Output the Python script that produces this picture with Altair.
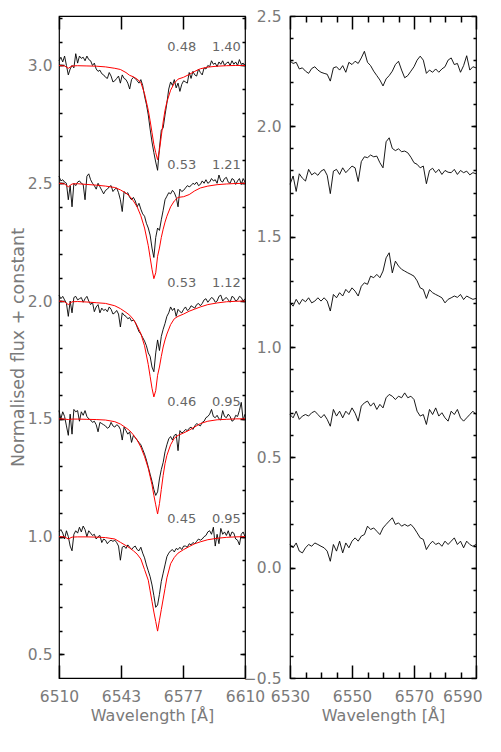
import altair as alt
import pandas as pd

# ---------------- data ----------------
WL_LEFT = list(range(6510, 6611))
WL_RIGHT = list(range(6530, 6591))
MODEL_WL = [6510, 6513, 6515, 6517, 6520, 6525, 6530, 6535, 6540, 6543,
            6546, 6548, 6550, 6552, 6554, 6556, 6558, 6559, 6560, 6561,
            6562, 6563, 6564, 6565, 6566, 6567, 6568, 6570, 6572, 6574,
            6577, 6580, 6583, 6586, 6590, 6595, 6600, 6605, 6610]

OBS_1 = [3.02, 3.035, 3.015, 3.04, 3.00, 2.96, 2.985, 3.00, 2.99, 3.05,
         3.01, 3.04, 3.03, 3.035, 3.02, 3.04, 3.025, 3.02, 3.00, 3.01,
         2.985, 2.975, 2.98, 2.965, 2.96, 2.95, 2.945, 2.97, 2.955, 2.93,
         2.935, 2.945, 2.955, 2.925, 2.96, 2.945, 2.94, 2.925, 2.90, 2.94,
         2.95, 2.945, 2.935, 2.925, 2.94, 2.915, 2.87, 2.835, 2.79, 2.73,
         2.675, 2.63, 2.59, 2.555, 2.65, 2.725, 2.735, 2.79, 2.84, 2.90,
         2.93, 2.915, 2.94, 2.905, 2.925, 2.89, 2.92, 2.935, 2.93, 2.925,
         2.97, 2.945, 2.975, 2.96, 2.955, 2.985, 2.97, 2.96, 2.99, 2.985,
         3.0, 2.995, 3.02, 3.005, 3.01, 2.995, 3.015, 3.005, 3.02, 3.0,
         3.01, 3.015, 3.0, 3.02, 3.005, 3.015, 3.0, 3.025, 3.005, 3.01,
         3.0]
OBS_2 = [2.53, 2.51, 2.515, 2.505, 2.50, 2.43, 2.49, 2.40, 2.50, 2.49,
         2.505, 2.51, 2.50, 2.495, 2.43, 2.53, 2.54, 2.515, 2.50, 2.49,
         2.475, 2.50, 2.485, 2.47, 2.455, 2.47, 2.475, 2.485, 2.49, 2.465,
         2.475, 2.48, 2.46, 2.43, 2.38, 2.465, 2.455, 2.46, 2.44, 2.43,
         2.44, 2.425, 2.40, 2.415, 2.39, 2.37, 2.36, 2.33, 2.31, 2.28,
         2.225, 2.185, 2.27, 2.31, 2.30, 2.345, 2.385, 2.43, 2.445, 2.46,
         2.455, 2.47, 2.46, 2.44, 2.40, 2.475, 2.465, 2.47, 2.48, 2.49,
         2.485, 2.49, 2.50, 2.495, 2.505, 2.49, 2.495, 2.51, 2.50, 2.515,
         2.50, 2.505, 2.52, 2.51, 2.515, 2.50, 2.535, 2.51, 2.505, 2.52,
         2.525, 2.505, 2.50, 2.52, 2.515, 2.495, 2.51, 2.52, 2.495, 2.52,
         2.505]
OBS_3 = [2.025, 2.01, 2.02, 2.005, 1.99, 1.935, 2.00, 1.95, 2.015, 2.02,
         2.005, 2.01, 2.015, 1.995, 2.01, 2.02, 2.00, 1.985, 1.995, 1.955,
         1.975, 1.985, 1.95, 1.97, 1.96, 1.965, 1.955, 1.975, 1.965, 1.945,
         1.95, 1.96, 1.945, 1.89, 1.95, 1.94, 1.935, 1.925, 1.93, 1.915,
         1.92, 1.91, 1.89, 1.87, 1.86, 1.845, 1.83, 1.81, 1.78, 1.765,
         1.72, 1.70, 1.78, 1.835, 1.79, 1.85, 1.88, 1.905, 1.935, 1.95,
         1.975, 1.96, 1.97, 1.935, 1.965, 1.955, 1.95, 1.965, 1.975, 1.96,
         1.965, 1.98, 1.975, 1.97, 1.985, 1.99, 1.98, 1.99, 2.005, 2.01,
         1.995, 2.005, 2.015, 2.01, 1.995, 2.0, 2.02, 2.025, 2.0, 2.01,
         2.015, 2.005, 1.995, 2.02, 2.015, 2.0, 2.005, 2.02, 2.015, 2.0,
         2.01]
OBS_4 = [1.535, 1.50, 1.53, 1.51, 1.47, 1.43, 1.52, 1.435, 1.54, 1.53,
         1.535, 1.49, 1.53, 1.515, 1.535, 1.51, 1.50, 1.495, 1.485, 1.49,
         1.475, 1.445, 1.485, 1.48, 1.475, 1.47, 1.46, 1.465, 1.485, 1.47,
         1.465, 1.475, 1.47, 1.455, 1.41, 1.465, 1.45, 1.435, 1.445, 1.40,
         1.43, 1.42, 1.41, 1.40, 1.39, 1.37, 1.35, 1.325, 1.295, 1.265,
         1.235, 1.20, 1.175, 1.19, 1.245, 1.285, 1.315, 1.36, 1.39, 1.415,
         1.425, 1.41, 1.43, 1.435, 1.365, 1.45, 1.44, 1.445, 1.455, 1.45,
         1.46, 1.465, 1.455, 1.47, 1.48, 1.475, 1.47, 1.485, 1.49, 1.505,
         1.51, 1.52, 1.54, 1.51, 1.505, 1.515, 1.50, 1.495, 1.535, 1.51,
         1.505, 1.52, 1.51, 1.49, 1.495, 1.515, 1.51, 1.535, 1.57, 1.495,
         1.52]
OBS_5 = [1.02, 1.03, 1.015, 0.99, 1.025, 1.0, 0.96, 0.94, 1.01, 1.025,
         1.015, 1.04, 1.02, 1.045, 1.03, 1.0, 1.025, 1.015, 1.005, 1.01,
         0.99, 1.0, 1.005, 0.975, 0.99, 0.985, 0.97, 0.98, 0.985, 0.98,
         0.985, 0.975, 0.96, 0.90, 0.955, 0.96, 0.95, 0.965, 0.955, 0.945,
         0.955, 0.96, 0.945, 0.94, 0.955, 0.93, 0.91, 0.88, 0.855, 0.83,
         0.795, 0.75, 0.70, 0.71, 0.755, 0.81, 0.845, 0.88, 0.915, 0.93,
         0.94, 0.945, 0.935, 0.95, 0.945, 0.955, 0.945, 0.96, 0.96, 0.955,
         0.97, 0.965, 0.975, 0.97, 0.98, 0.99, 0.985, 0.99, 1.0, 1.005,
         1.02, 1.025, 1.01, 1.04, 0.96, 1.01, 0.97, 1.035, 1.01, 1.02,
         1.005, 1.025, 1.0, 1.02, 1.015, 0.99, 0.985, 0.965, 1.01, 1.02,
         1.0]

MOD_1 = [3.0, 2.998, 2.988, 2.998, 2.999, 2.998, 2.997, 2.994, 2.988, 2.983,
         2.97, 2.958, 2.952, 2.942, 2.928, 2.88, 2.81, 2.765, 2.715, 2.665,
         2.63, 2.60, 2.64, 2.70, 2.76, 2.81, 2.845, 2.895, 2.925, 2.942,
         2.95, 2.962, 2.975, 2.986, 2.993, 2.997, 2.999, 3.0, 3.0]
MOD_2 = [2.5, 2.497, 2.485, 2.497, 2.498, 2.495, 2.492, 2.488, 2.482, 2.472,
         2.458, 2.445, 2.425, 2.40, 2.362, 2.31, 2.235, 2.185, 2.135, 2.095,
         2.12, 2.19, 2.225, 2.27, 2.305, 2.335, 2.36, 2.40, 2.425, 2.44,
         2.443, 2.452, 2.468, 2.48, 2.488, 2.494, 2.497, 2.499, 2.5]
MOD_3 = [2.0, 1.997, 1.985, 1.997, 1.998, 1.996, 1.993, 1.99, 1.98, 1.968,
         1.952, 1.94, 1.922, 1.895, 1.862, 1.81, 1.73, 1.68, 1.63, 1.593,
         1.62, 1.685, 1.72, 1.765, 1.805, 1.835, 1.86, 1.90, 1.925, 1.935,
         1.945, 1.957, 1.966, 1.975, 1.985, 1.992, 1.997, 1.999, 2.0]
MOD_4 = [1.5, 1.499, 1.497, 1.499, 1.499, 1.498, 1.497, 1.495, 1.488, 1.478,
         1.462, 1.45, 1.432, 1.41, 1.38, 1.34, 1.29, 1.255, 1.22, 1.175,
         1.135, 1.096, 1.14, 1.20, 1.26, 1.31, 1.345, 1.39, 1.418, 1.43,
         1.44, 1.452, 1.466, 1.48, 1.49, 1.496, 1.498, 1.5, 1.5]
MOD_5 = [1.0, 0.999, 0.99, 0.998, 0.999, 0.999, 0.998, 0.996, 0.99, 0.976,
         0.962, 0.952, 0.94, 0.926, 0.905, 0.86, 0.815, 0.77, 0.725, 0.68,
         0.64, 0.599, 0.645, 0.69, 0.735, 0.78, 0.825, 0.885, 0.912, 0.93,
         0.945, 0.958, 0.97, 0.978, 0.987, 0.993, 0.997, 0.999, 1.0]

RES_1 = [2.296, 2.285, 2.29, 2.26, 2.265, 2.25, 2.24, 2.262, 2.27, 2.255,
         2.245, 2.24, 2.236, 2.205, 2.265, 2.27, 2.255, 2.275, 2.245, 2.29,
         2.28, 2.295, 2.285, 2.31, 2.34, 2.29, 2.275, 2.25, 2.23, 2.21,
         2.183, 2.215, 2.23, 2.25, 2.28, 2.295, 2.255, 2.22, 2.23, 2.25,
         2.27, 2.30, 2.318, 2.30, 2.24, 2.255, 2.245, 2.26, 2.245, 2.26,
         2.27, 2.30, 2.31, 2.28, 2.285, 2.245, 2.275, 2.32, 2.255, 2.27,
         2.265]
RES_2 = [1.737, 1.775, 1.705, 1.785, 1.765, 1.752, 1.805, 1.78, 1.79, 1.778,
         1.797, 1.805, 1.778, 1.695, 1.797, 1.805, 1.782, 1.812, 1.79, 1.805,
         1.82, 1.812, 1.75, 1.84, 1.862, 1.858, 1.87, 1.862, 1.865, 1.835,
         1.812, 1.93, 1.948, 1.90, 1.89, 1.898, 1.885, 1.888, 1.88, 1.86,
         1.835, 1.828, 1.812, 1.82, 1.74, 1.80, 1.81, 1.79, 1.805, 1.782,
         1.80, 1.792, 1.79, 1.805, 1.782, 1.80, 1.79, 1.797, 1.78, 1.79,
         1.785]
RES_3 = [1.20, 1.185, 1.216, 1.193, 1.216, 1.205, 1.223, 1.20, 1.208, 1.223,
         1.208, 1.223, 1.208, 1.163, 1.238, 1.223, 1.246, 1.231, 1.261, 1.246,
         1.268, 1.253, 1.231, 1.275, 1.291, 1.284, 1.321, 1.314, 1.329, 1.314,
         1.344, 1.404, 1.427, 1.336, 1.389, 1.367, 1.352, 1.344, 1.336, 1.329,
         1.321, 1.30, 1.268, 1.261, 1.22, 1.26, 1.246, 1.238, 1.231, 1.223,
         1.20, 1.216, 1.223, 1.231, 1.225, 1.238, 1.215, 1.231, 1.223, 1.216,
         1.22]
RES_4 = [0.694, 0.679, 0.709, 0.672, 0.687, 0.694, 0.687, 0.702, 0.709, 0.694,
         0.679, 0.694, 0.672, 0.641, 0.717, 0.687, 0.709, 0.679, 0.709, 0.694,
         0.724, 0.70, 0.664, 0.732, 0.747, 0.755, 0.732, 0.747, 0.717, 0.74,
         0.724, 0.77, 0.785, 0.777, 0.762, 0.777, 0.770, 0.792, 0.770, 0.777,
         0.762, 0.709, 0.687, 0.694, 0.649, 0.717, 0.694, 0.724, 0.687, 0.702,
         0.679, 0.664, 0.709, 0.694, 0.717, 0.679, 0.664, 0.679, 0.694, 0.709,
         0.694]
RES_5 = [0.105, 0.09, 0.112, 0.075, 0.067, 0.09, 0.105, 0.097, 0.112, 0.105,
         0.097, 0.09, 0.075, 0.029, 0.105, 0.075, 0.12, 0.067, 0.112, 0.09,
         0.12, 0.135, 0.12, 0.143, 0.15, 0.188, 0.173, 0.18, 0.165, 0.15,
         0.18, 0.196, 0.211, 0.226, 0.196, 0.203, 0.188, 0.196, 0.188, 0.196,
         0.18, 0.158, 0.135, 0.128, 0.082, 0.105, 0.12, 0.105, 0.112, 0.097,
         0.12, 0.105, 0.12, 0.135, 0.105, 0.12, 0.09, 0.12, 0.105, 0.097,
         0.105]

LABEL_WL = [6576, 6600]
LABEL_Y = [3.079, 2.579, 2.078, 1.572, 1.073]
LABEL_A = ["0.48", "0.53", "0.53", "0.46", "0.45"]
LABEL_B = ["1.40", "1.21", "1.12", "0.95", "0.95"]

LEFT_XTICKS = [6510, 6543.333, 6576.667, 6610]
LEFT_YTICKS = [0.5, 1.0, 1.5, 2.0, 2.5, 3.0]
LEFT_YMINOR = [round(0.5 + 0.1 * i, 1) for i in range(28)]
RIGHT_XTICKS = [6530, 6550, 6570, 6590]
RIGHT_XMINOR = [6535, 6540, 6545, 6555, 6560, 6565, 6575, 6580, 6585]
RIGHT_YTICKS = [-0.5, 0.0, 0.5, 1.0, 1.5, 2.0, 2.5]
RIGHT_YMINOR = [round(-0.4 + 0.1 * i, 1) for i in range(29)]

# ---------------- tables ----------------
obs_sets = [OBS_1, OBS_2, OBS_3, OBS_4, OBS_5]
mod_sets = [MOD_1, MOD_2, MOD_3, MOD_4, MOD_5]
res_sets = [RES_1, RES_2, RES_3, RES_4, RES_5]
for a in obs_sets:
    assert len(a) == len(WL_LEFT), len(a)
for a in mod_sets:
    assert len(a) == len(MODEL_WL), len(a)
for a in res_sets:
    assert len(a) == len(WL_RIGHT), len(a)

obs_df = pd.DataFrame([{"wl": w, "flux": f, "s": i}
                       for i, arr in enumerate(obs_sets) for w, f in zip(WL_LEFT, arr)])
mod_df = pd.DataFrame([{"wl": w, "flux": f, "s": i}
                       for i, arr in enumerate(mod_sets) for w, f in zip(MODEL_WL, arr)])
res_df = pd.DataFrame([{"wl": w, "flux": f, "s": i}
                       for i, arr in enumerate(res_sets) for w, f in zip(WL_RIGHT, arr)])
lab_rows = []
for y, a, b in zip(LABEL_Y, LABEL_A, LABEL_B):
    lab_rows.append({"wl": LABEL_WL[0], "flux": y, "label": a})
    lab_rows.append({"wl": LABEL_WL[1], "flux": y, "label": b})
lab_df = pd.DataFrame(lab_rows)

# ---------------- styling ----------------
FONT = "DejaVu Sans"
GRAY = "#7a7a7a"
W, H = 186, 662
XMAJ, XMIN = 13, 6   # inward tick lengths on the x edges (px)
YMAJ, YMIN = 5, 3    # inward tick lengths on the y edges (px)
TW = 1.5             # tick stroke width

XS_L = alt.Scale(domain=[6510, 6610], nice=False, zero=False)
YS_L = alt.Scale(domain=[0.4, 3.21], nice=False, zero=False)
XS_R = alt.Scale(domain=[6530, 6590], nice=False, zero=False)
YS_R = alt.Scale(domain=[-0.5, 2.5], nice=False, zero=False)


def x_ticks(orient, values, size):
    # inward ticks: axis pulled inside by its tick length
    return alt.Axis(orient=orient, values=values, tickSize=size, offset=-size,
                    labels=False, domain=False, grid=False, title=None,
                    tickColor="#000000", tickWidth=TW, tickOpacity=1)


def x_labelled(values, size, title, flush_last=False):
    kw = dict(orient="bottom", values=values, tickSize=size, offset=-size,
              format=".0f", labelPadding=11, labelFlush=False, labelOverlap=False,
              labelBound=False, domain=False, grid=False,
              tickColor="#000000", tickWidth=TW, tickOpacity=1,
              labelFont=FONT, labelFontSize=15.5, labelColor=GRAY,
              title=title, titleFont=FONT, titleFontSize=16, titleColor=GRAY,
              titleFontWeight="normal", titlePadding=3)
    if flush_last:
        kw["labelAlign"] = {"condition": {"test": "datum.value >= 6589", "value": "right"},
                            "value": "center"}
        kw["labelOffset"] = {"condition": {"test": "datum.value >= 6589", "value": 6},
                             "value": 0}
    return alt.Axis(**kw)


def y_axis(values, tick, labelled, pad=7, title=None):
    # y ticks drawn as grid lines dashed so that only both edge pieces show
    kw = dict(orient="left", values=values, ticks=False, domain=False,
              grid=True, gridColor="#000000", gridWidth=TW, gridOpacity=1,
              gridDash=[tick, W - 2 * tick])
    if labelled:
        kw.update(format=".1f", labelPadding=pad, labelFlush=False, labelOverlap=False,
                  labelFont=FONT, labelFontSize=15.5, labelColor=GRAY)
        if title:
            kw.update(title=title, titleFont=FONT, titleFontSize=17.5, titleColor=GRAY,
                      titleFontWeight="normal", titlePadding=0)
        else:
            kw.update(title=None)
    else:
        kw.update(labels=False, title=None)
    return alt.Axis(**kw)


def carrier(df, xs, ys, xaxis, yaxis):
    return alt.Chart(df).mark_line(opacity=0).encode(
        x=alt.X("wl:Q", scale=xs, axis=xaxis),
        y=alt.Y("flux:Q", scale=ys, axis=yaxis),
        detail="s:N")


# left panel
l_obs = alt.Chart(obs_df).mark_line(color="black", strokeWidth=0.9).encode(
    x=alt.X("wl:Q", scale=XS_L, axis=x_labelled(LEFT_XTICKS, XMAJ, "Wavelength [Å]")),
    y=alt.Y("flux:Q", scale=YS_L, axis=y_axis(LEFT_YTICKS, YMAJ, True, 7, "Normalised flux + constant")),
    detail="s:N")
l_mod = alt.Chart(mod_df).mark_line(color="#ff0000", strokeWidth=1).encode(
    x=alt.X("wl:Q", scale=XS_L, axis=x_ticks("top", LEFT_XTICKS, XMAJ)),
    y=alt.Y("flux:Q", scale=YS_L, axis=y_axis(LEFT_YMINOR, YMIN, False)),
    detail="s:N")
l_txt = alt.Chart(lab_df).mark_text(font=FONT, fontSize=13, color="#666666",
                                    align="center", baseline="middle").encode(
    x=alt.X("wl:Q", scale=XS_L, axis=None),
    y=alt.Y("flux:Q", scale=YS_L, axis=None),
    text="label:N")
left = alt.layer(l_obs, l_mod, l_txt).resolve_axis(
    x="independent", y="independent").properties(width=W, height=H)

# right panel
r_obs = alt.Chart(res_df).mark_line(color="black", strokeWidth=0.9).encode(
    x=alt.X("wl:Q", scale=XS_R, axis=x_labelled(RIGHT_XTICKS, XMAJ, "Wavelength [Å]", True)),
    y=alt.Y("flux:Q", scale=YS_R, axis=y_axis(RIGHT_YTICKS, YMAJ, True, 9)),
    detail="s:N")
r_c1 = carrier(res_df, XS_R, YS_R, x_ticks("bottom", RIGHT_XMINOR, XMIN),
               y_axis(RIGHT_YMINOR, YMIN, False))
r_c2 = carrier(res_df, XS_R, YS_R, x_ticks("top", RIGHT_XTICKS, XMAJ), None)
r_c3 = carrier(res_df, XS_R, YS_R, x_ticks("top", RIGHT_XMINOR, XMIN), None)
right = alt.layer(r_obs, r_c1, r_c2, r_c3).resolve_axis(
    x="independent", y="independent").properties(width=W, height=H)

chart = alt.hconcat(left, right, spacing=45, bounds="flush").properties(
    padding={"left": 0, "top": 0, "right": 2, "bottom": 4}
).configure(background="white").configure_view(stroke="black", strokeWidth=1.2)

chart.save("out.html", embed_options={"renderer": "svg", "actions": False})
